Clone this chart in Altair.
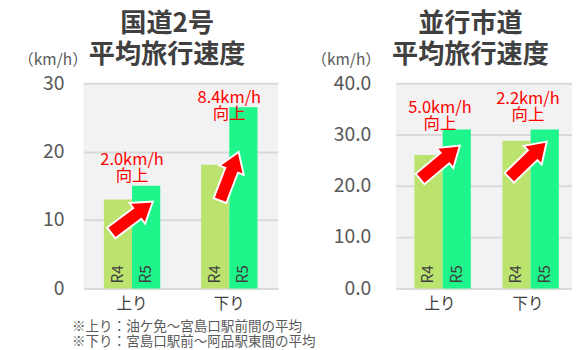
import altair as alt
import pandas as pd

directions = ["上り", "下り"]
years = ["R4", "R5"]

route2_r4 = [13.0, 18.1]
route2_r5 = [15.0, 26.5]
route2_gain = ["2.0km/h\n向上", "8.4km/h\n向上"]
route2_gain_y = [18.8, 27.9]
route2_arrow_y = [10.4, 16.4]
route2_arrow_angle = [323, 291]

city_r4 = [26.0, 28.8]
city_r5 = [31.0, 31.0]
city_gain = ["5.0km/h\n向上", "2.2km/h\n向上"]
city_gain_y = [35.2, 37.0]
city_arrow_y = [24.6, 25.1]
city_arrow_angle = [320, 316]

footnotes = ["※上り：油ケ免～宮島口駅前間の平均", "※下り：宮島口駅前～阿品駅東間の平均"]

FONT = "Noto Sans CJK JP"
ARROW = "M -1 -0.26 L 0.25 -0.26 L 0.25 -0.5 L 1 0 L 0.25 0.5 L 0.25 0.26 L -1 0.26 Z"


def panel(title, r4, r5, gains, gain_y, arrow_y, arrow_angle, ymax, ticks, fmt,
          width, height, label_pad, unit_x):
    bars = pd.DataFrame({
        "dir": directions * 2,
        "year": ["R4"] * 2 + ["R5"] * 2,
        "v": r4 + r5,
    })
    notes = pd.DataFrame({"dir": directions, "txt": gains, "ty": gain_y,
                          "ay": arrow_y, "ang": arrow_angle})

    x = alt.X("dir:N", sort=directions,
              scale=alt.Scale(paddingInner=0.42, paddingOuter=0.21),
              axis=alt.Axis(title=None, labelAngle=0, labelFontSize=16,
                            labelColor="#404040", labelFont=FONT, ticks=False,
                            domainColor="#d9d9d9", domainWidth=2, labelPadding=8))
    y = alt.Y("v:Q", scale=alt.Scale(domain=[0, ymax], nice=False),
              axis=alt.Axis(values=ticks, format=fmt, title="（km/h）",
                            titleAngle=0, titleAlign="center", titleBaseline="middle",
                            titleX=unit_x, titleY=-24, titleFontSize=16,
                            titleFontWeight="normal", titleColor="#595959", titleFont=FONT,
                            grid=True, gridColor="#d9d9d9", gridWidth=2,
                            domain=False, ticks=False, labelFontSize=20,
                            labelColor="#595959", labelFont=FONT, labelPadding=label_pad))
    color = alt.Color("year:N", scale=alt.Scale(domain=years, range=["#bde36f", "#1ef58a"]),
                      legend=None)
    xo = alt.XOffset("year:N", sort=years)

    bar = alt.Chart(bars).mark_bar().encode(x=x, xOffset=xo, y=y, color=color)
    yl = alt.Chart(bars).mark_text(angle=270, align="left", baseline="middle", dx=5,
                                   fontSize=16, color="#404040", font=FONT).encode(
        x=x, xOffset=xo, y=alt.datum(0), text="year:N")
    arrows = alt.Chart(notes).mark_point(shape=ARROW, filled=True, fill="#ff0000",
                                         stroke="white", strokeWidth=2, size=2900,
                                         opacity=1).encode(
        x=x, y=alt.Y("ay:Q"), angle=alt.Angle("ang:Q", scale=None))
    txt = alt.Chart(notes).mark_text(color="#ff0000", fontSize=17, lineBreak="\n",
                                     lineHeight=17, baseline="middle", font=FONT).encode(
        x=x, y=alt.Y("ty:Q"), text="txt:N")

    return alt.layer(bar, yl, arrows, txt).properties(
        width=width, height=height,
        title=alt.TitleParams(text=title, fontSize=27, fontWeight="bold",
                              color="#404040", font=FONT, anchor="middle", dx=-14,
                              lineHeight=32, offset=-17),
    )


left = panel(["国道2号", "平均旅行速度"], route2_r4, route2_r5, route2_gain, route2_gain_y,
             route2_arrow_y, route2_arrow_angle, 30, [0, 10, 20, 30], "d",
             201, 212, 20, -32)
right = panel(["並行市道", "平均旅行速度"], city_r4, city_r5, city_gain, city_gain_y,
              city_arrow_y, city_arrow_angle, 40, [0, 10, 20, 30, 40], ".1f",
              182, 212, 26, -52)

chart = alt.hconcat(left, right, spacing=34).properties(
    padding={"left": 10, "top": -3, "right": 0, "bottom": 0},
    title=alt.TitleParams(text=footnotes, orient="bottom", anchor="start", fontSize=14,
                          fontWeight="normal", color="#595959", font=FONT,
                          lineHeight=16, offset=9, dx=56),
).configure_view(fill="#f2f2f2", strokeWidth=0)

chart.save("out.html", embed_options={"renderer": "svg", "actions": False})
